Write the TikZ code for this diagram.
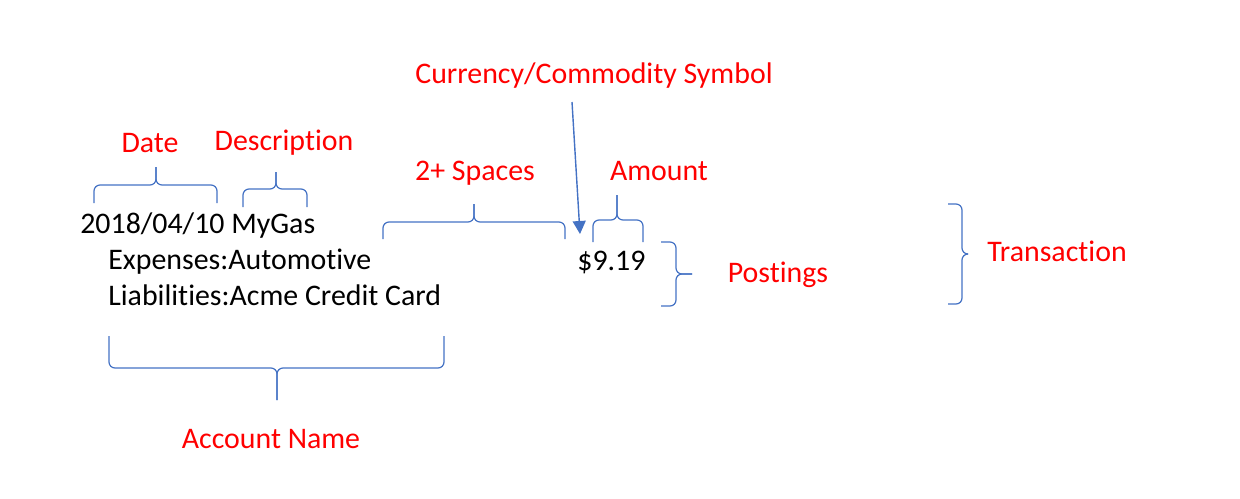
\documentclass[tikz,border=0pt]{standalone}
\usepackage{fontspec}
\setmainfont{Carlito}[Ligatures={NoCommon,NoContextual}]
\usetikzlibrary{arrows.meta}
\definecolor{labelred}{HTML}{FF0000}
\definecolor{braceblue}{HTML}{4472C4}

\begin{document}
\begin{tikzpicture}[x=0.02cm, y=-0.02cm,
  every node/.style={inner sep=0pt, font=\fontsize{17}{20}\selectfont},
  entry/.style={anchor=base west},
  tag/.style={anchor=base, text=labelred},
  curly/.style={draw=braceblue, line width=0.7pt, rounded corners=0.12cm}]
  \useasboundingbox (0,0) rectangle (1240,498);

  % the journal entry
  \node[entry] (head) at (80,233) {2018/04/10 MyGas};
  \node[entry] (exp) at (108,269) {Expenses:Automotive};
  \node[entry] (liab) at (108,305) {Liabilities:Acme Credit Card};
  \node[entry] (amt) at (577,270) {\$9.19};

  % labels
  \node[tag] (date) at (150,152) {Date};
  \node[tag] (desc) at (284,150) {Description};
  \node[tag] (cur) at (594,83) {Currency/Commodity Symbol};
  \node[tag] (spaces) at (475,180) {2+ Spaces};
  \node[tag] (amount) at (659,180) {Amount};
  \node[tag] (post) at (778,282) {Postings};
  \node[tag] (trans) at (1057,261) {Transaction};
  \node[tag] (acct) at (271,448) {Account Name};

  % braces above
  \draw[curly] (94,203) |- (156,185) -- (156,167);
  \draw[curly] (217,203) |- (156,185) -- (156,167);
  \draw[curly] (243,207) |- (276,189) -- (276,172);
  \draw[curly] (307,207) |- (276,189) -- (276,172);
  \draw[curly] (383,239) |- (474,222) -- (474,204);
  \draw[curly] (565,239) |- (474,222) -- (474,204);
  \draw[curly] (593,242) |- (617,220) -- (617,195);
  \draw[curly] (643,242) |- (617,220) -- (617,195);

  % braces at the side
  \draw[curly] (661,242) -| (676,274) -- (692,274);
  \draw[curly] (661,306) -| (676,274) -- (692,274);
  \draw[curly] (948,204) -| (962,254) -- (968,254);
  \draw[curly] (948,304) -| (962,254) -- (968,254);

  % brace below
  \draw[curly] (109,336) |- (277,368) -- (277,400);
  \draw[curly] (444,336) |- (277,368) -- (277,400);

  % pointer to the symbol
  \coordinate (symtop) at (572,102);
  \coordinate (symtip) at (580,234);
  \draw[braceblue, line width=0.8pt, -{Triangle[width=0.26cm, length=0.26cm]}] (symtop) -- (symtip);
\end{tikzpicture}
\end{document}
